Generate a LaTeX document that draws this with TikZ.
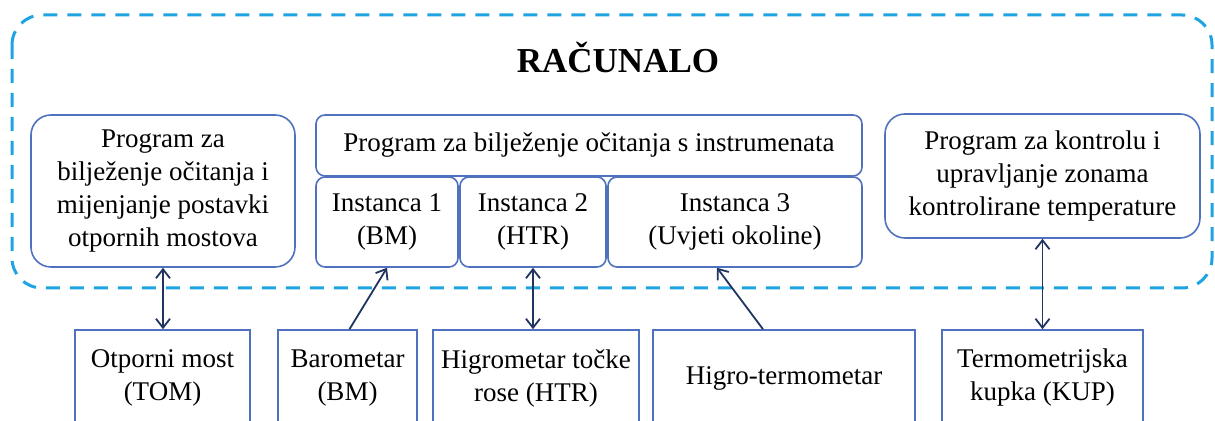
\documentclass[tikz,border=0pt]{standalone}
\usepackage{fontspec}
\setmainfont{Liberation Serif}
\usetikzlibrary{arrows.meta}
\definecolor{boxblue}{RGB}{79,113,190}
\definecolor{dashblue}{RGB}{30,165,225}
\definecolor{arrowblue}{RGB}{31,52,96}
\begin{document}
\begin{tikzpicture}[x=0.5pt,y=-0.5pt,
    font=\fontsize{13.5}{16.5}\selectfont,
    prog/.style={draw=boxblue,line width=0.8pt,rounded corners=10pt,align=center,
      inner sep=2pt},
    inst/.style={prog,rounded corners=4.5pt,minimum height=45pt},
    device/.style={draw=boxblue,line width=0.8pt,minimum height=48pt,align=center,
      inner sep=2pt},
    link/.style={draw=arrowblue,line width=0.9pt,-{Straight Barb[length=4.5pt,width=7pt]}},
    dlink/.style={link,{Straight Barb[length=4.5pt,width=7pt]}-{Straight Barb[length=4.5pt,width=7pt]}}]
  \clip (0,0) rectangle (1215,421);
  % computer frame
  \draw[dashblue,line width=1.5pt,dash pattern=on 7pt off 5pt,rounded corners=15pt]
    (12,15) rectangle (1212,288);
  \node[font=\fontsize{17.5}{20}\selectfont\bfseries] (title) at (618,57) {RAČUNALO};
  % programs
  \node[prog,minimum width=132pt,minimum height=76pt] (prgtom) at (163,191)
    {Program za\\bilježenje očitanja i\\mijenjanje postavki\\otpornih mostova};
  \node[prog,rounded corners=4.5pt,minimum width=273pt,minimum height=30.5pt] (prgins)
    at (589,145.5) {Program za bilježenje očitanja s instrumenata};
  \node[inst,minimum width=71pt] (inst1) at (387,222) {Instanca 1\\(BM)};
  \node[inst,minimum width=73pt] (inst2) at (533,222) {Instanca 2\\(HTR)};
  \node[inst,minimum width=127pt] (inst3) at (735,222) {Instanca 3\\(Uvjeti okoline)};
  \node[prog,minimum width=157.5pt,minimum height=62pt] (prgkup) at (1042.5,176)
    {Program za kontrolu i\\upravljanje zonama\\kontrolirane temperature};
  % instruments
  \node[device,minimum width=87.5pt] (tom) at (162.5,378) {Otporni most\\(TOM)};
  \node[device,minimum width=69.5pt] (baro) at (347.5,378) {Barometar\\(BM)};
  \node[device,minimum width=103pt] (htr) at (536,378) {Higrometar točke\\rose (HTR)};
  \node[device,minimum width=131pt] (higro) at (784,378) {Higro-termometar};
  \node[device,minimum width=100.5pt] (kup) at (1042.5,378) {Termometrijska\\kupka (KUP)};
  % connections
  \draw[dlink] (prgtom.south) -- (prgtom.south |- tom.north);
  \draw[link] ([xshift=1pt]baro.north) -- (inst1.south);
  \draw[dlink] (inst2.south) -- (inst2.south |- htr.north);
  \draw[link] ([xshift=-10.5pt]higro.north) -- ([xshift=-9pt]inst3.south);
  \draw[dlink] (prgkup.south) -- (prgkup.south |- kup.north);
\end{tikzpicture}
\end{document}
